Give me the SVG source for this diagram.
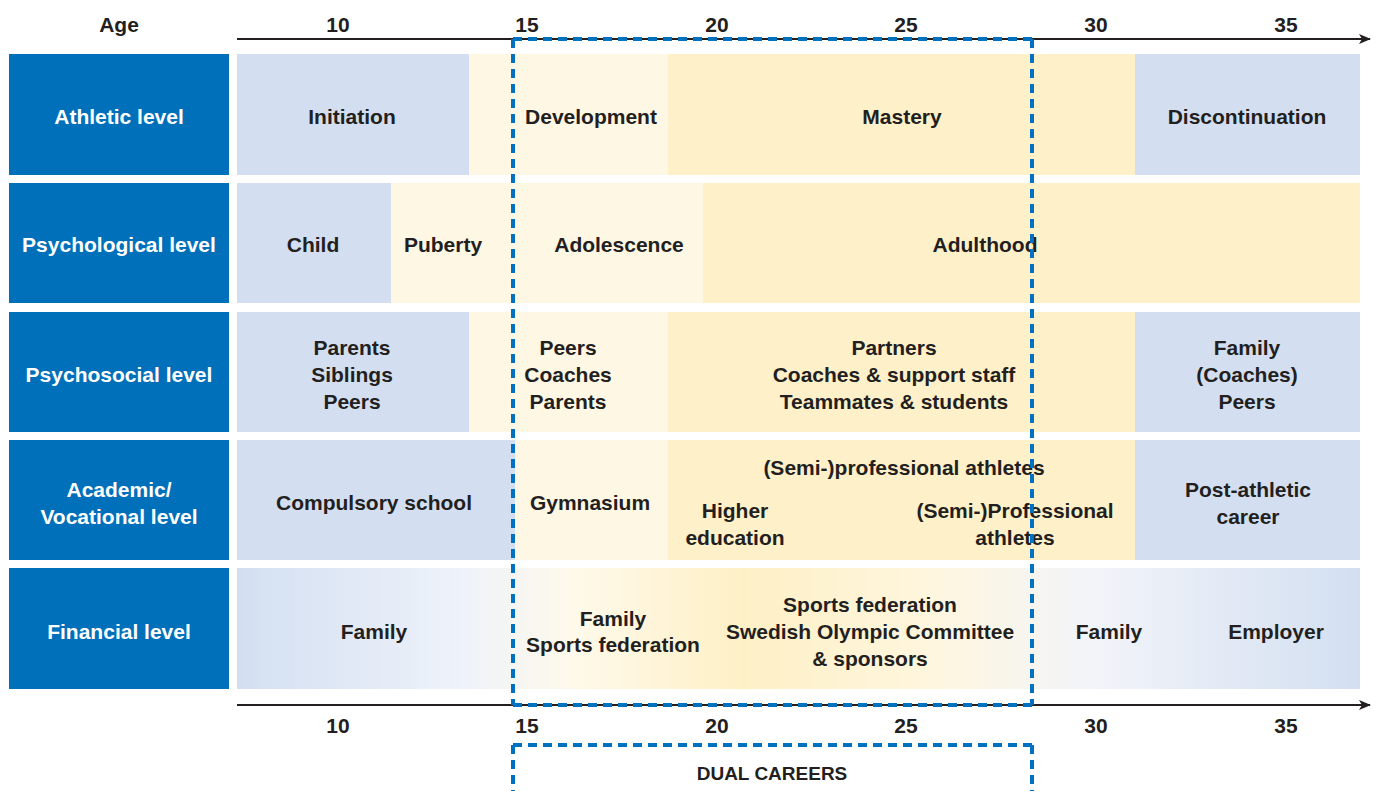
<svg xmlns="http://www.w3.org/2000/svg" width="1376" height="791" viewBox="0 0 1376 791">
<defs>
<marker id="arr" markerWidth="12" markerHeight="10" refX="11" refY="5" orient="auto" markerUnits="userSpaceOnUse">
<path d="M0,0 L12,5 L0,10 L3,5 Z" fill="#231F20"/>
</marker>
<linearGradient id="fin" x1="0" y1="0" x2="1" y2="0">
<stop offset="0" stop-color="#D3DFF1"/>
<stop offset="0.2" stop-color="#EEF2FA"/>
<stop offset="0.3" stop-color="#FEF9EA"/>
<stop offset="0.45" stop-color="#FEF0C6"/>
<stop offset="0.62" stop-color="#FEF6DE"/>
<stop offset="0.76" stop-color="#F2F4F9"/>
<stop offset="1" stop-color="#D3DFF1"/>
</linearGradient>
<style>
.hdr{fill:#0070BA}
.b{fill:#D3DFF1}
.c{fill:#FEF7E4}
.y{fill:#FEF1C9}
text{font-family:"Liberation Sans",Arial,sans-serif;font-weight:bold;font-size:21px;fill:#231F20;text-anchor:middle;dominant-baseline:central}
.w{fill:#FFFFFF}
.s{font-size:19px}
.axis{stroke:#231F20;stroke-width:2;fill:none}
.dash{stroke:#0070C0;stroke-width:4;fill:none;stroke-dasharray:9 6}
</style>
</defs>

<g id="axis-top">
<line class="axis" x1="237" y1="39" x2="1370" y2="39" marker-end="url(#arr)"/>
<text x="119" y="24">Age</text>
<text x="338" y="24">10</text>
<text x="527" y="24">15</text>
<text x="717" y="24">20</text>
<text x="906" y="24">25</text>
<text x="1096" y="24">30</text>
<text x="1286" y="24">35</text>
</g>

<g id="row-athletic">
<rect class="hdr" x="9" y="54" width="220" height="121"/>
<text class="w" x="119" y="116">Athletic level</text>
<rect class="b" x="237" y="54" width="232" height="121"/>
<rect class="c" x="469" y="54" width="199" height="121"/>
<rect class="y" x="668" y="54" width="467" height="121"/>
<rect class="b" x="1135" y="54" width="225" height="121"/>
<text x="352" y="116">Initiation</text>
<text x="591" y="116">Development</text>
<text x="902" y="116">Mastery</text>
<text x="1247" y="116">Discontinuation</text>
</g>

<g id="row-psychological">
<rect class="hdr" x="9" y="183" width="220" height="120"/>
<text class="w" x="119" y="244">Psychological level</text>
<rect class="b" x="237" y="183" width="154" height="120"/>
<rect class="c" x="391" y="183" width="312" height="120"/>
<rect class="y" x="703" y="183" width="657" height="120"/>
<text x="313" y="244">Child</text>
<text x="443" y="244">Puberty</text>
<text x="619" y="244">Adolescence</text>
<text x="985" y="244">Adulthood</text>
</g>

<g id="row-psychosocial">
<rect class="hdr" x="9" y="312" width="220" height="120"/>
<text class="w" x="119" y="374">Psychosocial level</text>
<rect class="b" x="237" y="312" width="232" height="120"/>
<rect class="c" x="469" y="312" width="199" height="120"/>
<rect class="y" x="668" y="312" width="467" height="120"/>
<rect class="b" x="1135" y="312" width="225" height="120"/>
<text x="352" y="347">Parents</text>
<text x="352" y="374">Siblings</text>
<text x="352" y="401">Peers</text>
<text x="568" y="347">Peers</text>
<text x="568" y="374">Coaches</text>
<text x="568" y="401">Parents</text>
<text x="894" y="347">Partners</text>
<text x="894" y="374">Coaches &amp; support staff</text>
<text x="894" y="401">Teammates &amp; students</text>
<text x="1247" y="347">Family</text>
<text x="1247" y="374">(Coaches)</text>
<text x="1247" y="401">Peers</text>
</g>

<g id="row-academic">
<rect class="hdr" x="9" y="440" width="220" height="120"/>
<text class="w" x="119" y="489">Academic/</text>
<text class="w" x="119" y="516">Vocational level</text>
<rect class="b" x="237" y="440" width="278" height="120"/>
<rect class="c" x="515" y="440" width="153" height="120"/>
<rect class="y" x="668" y="440" width="467" height="120"/>
<rect class="b" x="1135" y="440" width="225" height="120"/>
<text x="374" y="502">Compulsory school</text>
<text x="590" y="502">Gymnasium</text>
<text x="904" y="467">(Semi-)professional athletes</text>
<text x="735" y="510">Higher</text>
<text x="735" y="537">education</text>
<text x="1015" y="510">(Semi-)Professional</text>
<text x="1015" y="537">athletes</text>
<text x="1248" y="489">Post-athletic</text>
<text x="1248" y="516">career</text>
</g>

<g id="row-financial">
<rect class="hdr" x="9" y="568" width="220" height="121"/>
<text class="w" x="119" y="631">Financial level</text>
<rect x="237" y="568" width="1123" height="121" fill="url(#fin)"/>
<text x="374" y="631">Family</text>
<text x="613" y="618">Family</text>
<text x="613" y="644">Sports federation</text>
<text x="870" y="604">Sports federation</text>
<text x="870" y="631">Swedish Olympic Committee</text>
<text x="870" y="658">&amp; sponsors</text>
<text x="1109" y="631">Family</text>
<text x="1276" y="631">Employer</text>
</g>

<g id="axis-bottom">
<line class="axis" x1="237" y1="705" x2="1370" y2="705" marker-end="url(#arr)"/>
<text x="338" y="725">10</text>
<text x="527" y="725">15</text>
<text x="717" y="725">20</text>
<text x="906" y="725">25</text>
<text x="1096" y="725">30</text>
<text x="1286" y="725">35</text>
</g>

<g id="connectors">
<path class="dash" d="M513,39 H1032 M513,39 V705 M1032,39 V705 M513,705 H1032"/>
<path class="dash" d="M513,745 H1032 M513,745 V791 M1032,745 V791"/>
</g>

<g id="dual-careers">
<text class="s" x="772" y="773">DUAL CAREERS</text>
</g>
</svg>
